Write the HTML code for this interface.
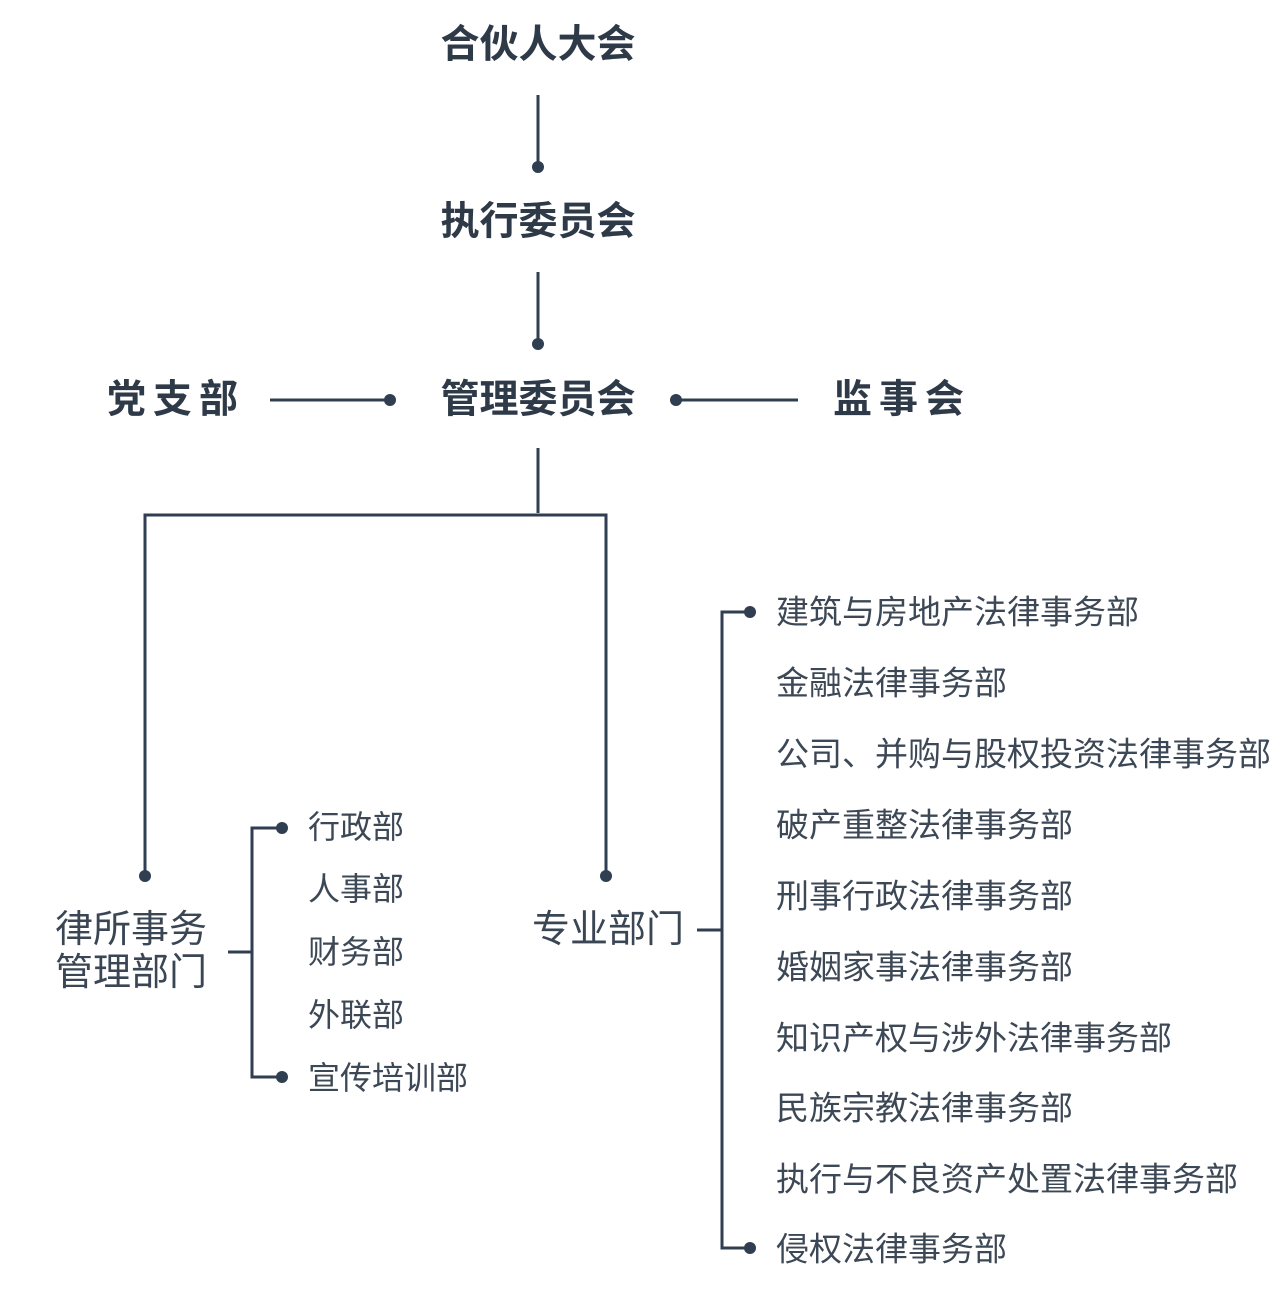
<!DOCTYPE html>
<html><head><meta charset="utf-8"><style>
html,body{margin:0;padding:0;background:#fff;}
svg{display:block}
text{font-family:"Liberation Sans","Noto Sans CJK SC",sans-serif;dominant-baseline:central;}
.h{font-size:39px;font-weight:bold;fill:#2f3a48;text-anchor:middle}
.m{font-size:38px;fill:#3a4654}
.s{font-size:32px;fill:#3d4856}
.r{font-size:33px;fill:#3d4856}
</style></head><body>
<svg width="1280" height="1304" viewBox="0 0 1280 1304">
<g stroke="#2f3e50" stroke-width="3" fill="none">
<path d="M538 95V167M538 272V344M270 400H390M676 400H798M538 448V513M145 876V515H606V876"/>
<path d="M228 952H252M282 828H252V1077H282"/>
<path d="M697 930H722M750 612H722V1248H750"/>
</g>
<g fill="#2f3e50">
<circle cx="538" cy="167" r="6"/><circle cx="538" cy="344" r="6"/>
<circle cx="390" cy="400" r="6"/><circle cx="676" cy="400" r="6"/>
<circle cx="145" cy="876" r="6"/><circle cx="606" cy="876" r="6"/>
<circle cx="282" cy="828" r="6"/><circle cx="282" cy="1077" r="6"/>
<circle cx="750" cy="612" r="6"/><circle cx="750" cy="1248" r="6"/>
</g>
<text class="h" x="538" y="45">合伙人大会</text>
<text class="h" x="538" y="222">执行委员会</text>
<text class="h" x="538" y="400">管理委员会</text>
<text class="h" x="176" y="400" letter-spacing="7">党支部</text>
<text class="h" x="902" y="400" letter-spacing="7">监事会</text>
<text class="m" x="55" y="930">律所事务</text>
<text class="m" x="55" y="973">管理部门</text>
<text class="m" x="532" y="930">专业部门</text>
<text class="s" x="308" y="827">行政部</text>
<text class="s" x="308" y="889">人事部</text>
<text class="s" x="308" y="952">财务部</text>
<text class="s" x="308" y="1015">外联部</text>
<text class="s" x="308" y="1078">宣传培训部</text>
<text class="r" x="776" y="612">建筑与房地产法律事务部</text>
<text class="r" x="776" y="683">金融法律事务部</text>
<text class="r" x="776" y="754">公司、并购与股权投资法律事务部</text>
<text class="r" x="776" y="825">破产重整法律事务部</text>
<text class="r" x="776" y="896">刑事行政法律事务部</text>
<text class="r" x="776" y="967">婚姻家事法律事务部</text>
<text class="r" x="776" y="1038">知识产权与涉外法律事务部</text>
<text class="r" x="776" y="1108">民族宗教法律事务部</text>
<text class="r" x="776" y="1179">执行与不良资产处置法律事务部</text>
<text class="r" x="776" y="1249">侵权法律事务部</text>
</svg>
</body></html>
